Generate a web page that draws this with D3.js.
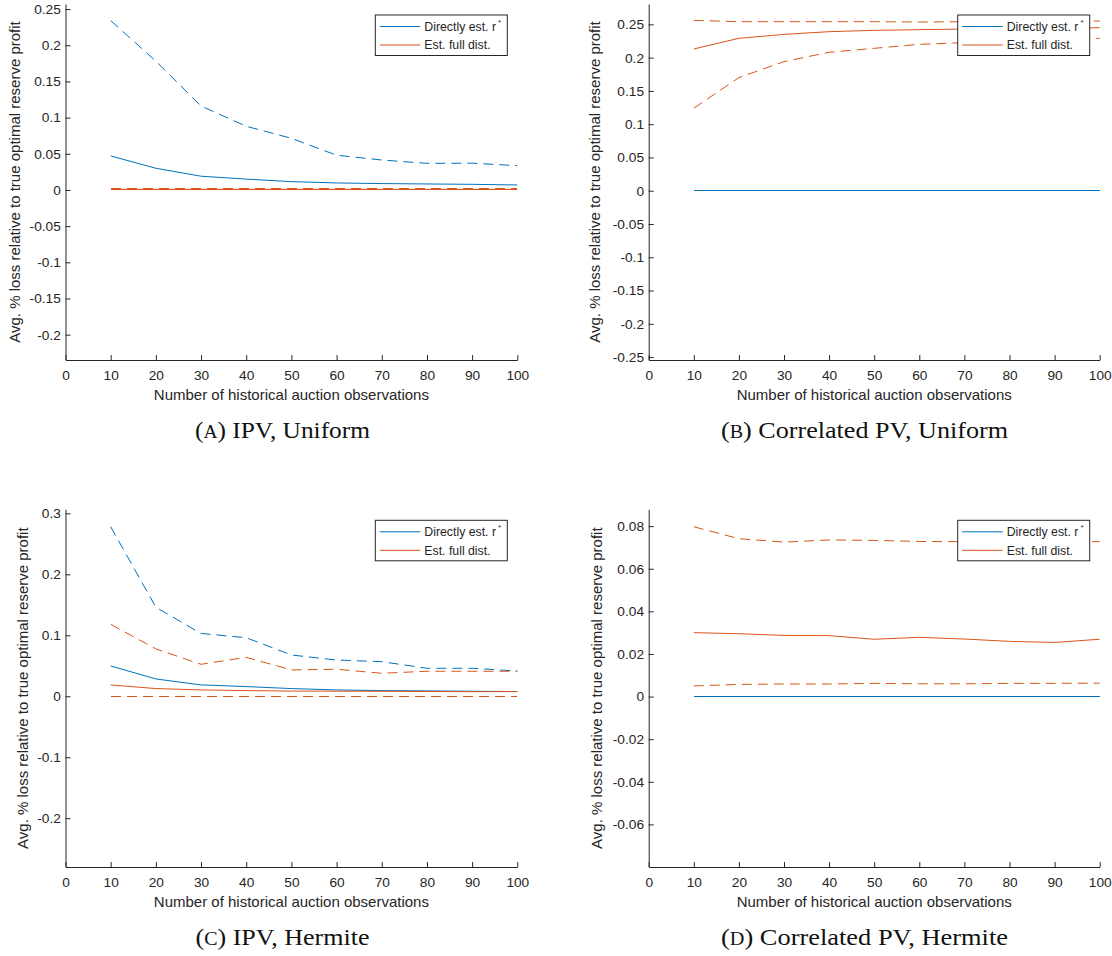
<!DOCTYPE html>
<html>
<head>
<meta charset="utf-8">
<script src="https://cdn.jsdelivr.net/npm/d3@7"></script>
<style>
  body { margin: 0; background: #fff; }
  svg text { font-family: "Liberation Sans", Arial, sans-serif; fill: #262626; }
  svg text.caption { font-family: "Liberation Serif", "Times New Roman", serif; fill: #111; }
</style>
</head>
<body>
<div id="chart"></div>
<script>
// 1- Data ------------------------------------------------------------------------------
const nObs   = [10, 20, 30, 40, 50, 60, 70, 80, 90, 100];
const xTicks = [0, 10, 20, 30, 40, 50, 60, 70, 80, 90, 100];

// (A) IPV, Uniform
const ipvUniDirect   = [0.047, 0.030, 0.019, 0.015, 0.0115, 0.0097, 0.0088, 0.0083, 0.0078, 0.0069];
const ipvUniDirectHi = [0.234, 0.178, 0.116, 0.088, 0.0714, 0.048, 0.0414, 0.0368, 0.037, 0.0336];
const ipvUniDirectLo = [0, 0, 0, 0, 0, 0, 0, 0, 0, 0];
const ipvUniFull     = [0.0008, 0.0008, 0.0008, 0.0008, 0.0008, 0.0008, 0.0008, 0.0008, 0.0008, 0.0008];
const ipvUniFullHi   = [0.0015, 0.0015, 0.0015, 0.0015, 0.0015, 0.0015, 0.0015, 0.0015, 0.0015, 0.0015];
const ipvUniFullLo   = [0, 0, 0, 0, 0, 0, 0, 0, 0, 0];

// (B) Correlated PV, Uniform
const corUniDirect   = [0, 0, 0, 0, 0, 0, 0, 0, 0, 0];
const corUniDirectHi = [0.0006, 0.0006, 0.0006, 0.0006, 0.0006, 0.0006, 0.0006, 0.0006, 0.0006, 0.0006];
const corUniDirectLo = [0, 0, 0, 0, 0, 0, 0, 0, 0, 0];
const corUniFull     = [0.213, 0.229, 0.235, 0.239, 0.241, 0.242, 0.243, 0.244, 0.244, 0.245];
const corUniFullHi   = [0.256, 0.254, 0.254, 0.254, 0.254, 0.2535, 0.254, 0.254, 0.254, 0.255];
const corUniFullLo   = [0.124, 0.170, 0.194, 0.208, 0.214, 0.220, 0.2225, 0.225, 0.227, 0.229];

// (C) IPV, Hermite
const ipvHerDirect   = [0.0497, 0.0284, 0.0186, 0.0159, 0.0126, 0.0104, 0.0093, 0.0088, 0.0082, 0.0077];
const ipvHerDirectHi = [0.278, 0.146, 0.103, 0.096, 0.0677, 0.0594, 0.0567, 0.0459, 0.0459, 0.0415];
const ipvHerDirectLo = [0, 0, 0, 0, 0, 0, 0, 0, 0, 0];
const ipvHerFull     = [0.0186, 0.0126, 0.0104, 0.0093, 0.0085, 0.0083, 0.0082, 0.0078, 0.0075, 0.0077];
const ipvHerFullHi   = [0.118, 0.0777, 0.0524, 0.0639, 0.0432, 0.0443, 0.0377, 0.041, 0.041, 0.041];
const ipvHerFullLo   = [0, 0, 0, 0, 0, 0, 0, 0, 0, 0];

// (D) Correlated PV, Hermite
const corHerDirect   = [0, 0, 0, 0, 0, 0, 0, 0, 0, 0];
const corHerDirectHi = [0, 0, 0, 0, 0, 0, 0, 0, 0, 0];
const corHerDirectLo = [0, 0, 0, 0, 0, 0, 0, 0, 0, 0];
const corHerFull     = [0.030, 0.0295, 0.0287, 0.0286, 0.0269, 0.0278, 0.027, 0.0259, 0.0254, 0.0269];
const corHerFullHi   = [0.0797, 0.0741, 0.0725, 0.0735, 0.0733, 0.0728, 0.0727, 0.0727, 0.0727, 0.0727];
const corHerFullLo   = [0.005, 0.0057, 0.0059, 0.0059, 0.0062, 0.006, 0.006, 0.0062, 0.0062, 0.0063];

// y tick values per panel
const yTicksA = [-0.2, -0.15, -0.1, -0.05, 0, 0.05, 0.1, 0.15, 0.2, 0.25];
const yTicksB = [-0.25, -0.2, -0.15, -0.1, -0.05, 0, 0.05, 0.1, 0.15, 0.2, 0.25];
const yTicksC = [-0.2, -0.1, 0, 0.1, 0.2, 0.3];
const yTicksD = [-0.06, -0.04, -0.02, 0, 0.02, 0.04, 0.06, 0.08];

const legendLabels = ["Directly est. r", "Est. full dist."];
const captionLetters = ["A", "B", "C", "D"];
const captionTexts = [") IPV, Uniform", ") Correlated PV, Uniform", ") IPV, Hermite", ") Correlated PV, Hermite"];
const xLabel = "Number of historical auction observations";
const yLabel = "Avg. % loss relative to true optimal reserve profit";

// 2- Layout / style ---------------------------------------------------------------------
const BLUE = "#0072BD";
const ORANGE = "#D95319";
const AXIS = "#262626";

const panels = [
  { left: 65.5, right: 517.3, top: 4, bottom: 360, yLim: [-0.235, 0.257], yTicks: yTicksA, ylabX: 19.5,
    capX: 282.5, capY: 438.3, capW: 175,
    direct: [ipvUniDirect, ipvUniDirectHi, ipvUniDirectLo], full: [ipvUniFull, ipvUniFullHi, ipvUniFullLo] },
  { left: 648.7, right: 1099.7, top: 4, bottom: 360, yLim: [-0.2544, 0.2806], yTicks: yTicksB, ylabX: 600,
    capX: 864.5, capY: 438.3, capW: 287,
    direct: [corUniDirect, corUniDirectHi, corUniDirectLo], full: [corUniFull, corUniFullHi, corUniFullLo] },
  { left: 65.5, right: 517.3, top: 509.3, bottom: 867, yLim: [-0.28, 0.3066], yTicks: yTicksC, ylabX: 28,
    capX: 282.5, capY: 945.3, capW: 174,
    direct: [ipvHerDirect, ipvHerDirectHi, ipvHerDirectLo], full: [ipvHerFull, ipvHerFullHi, ipvHerFullLo] },
  { left: 648.7, right: 1099.7, top: 509.3, bottom: 867, yLim: [-0.08, 0.0879], yTicks: yTicksD, ylabX: 601.5,
    capX: 864.5, capY: 945.3, capW: 287,
    direct: [corHerDirect, corHerDirectHi, corHerDirectLo], full: [corHerFull, corHerFullHi, corHerFullLo] }
];

// 3- SVG wrapper ------------------------------------------------------------------------
const svg = d3.select("#chart")
  .append("svg")
  .attr("width", 1112)
  .attr("height", 956);

const fmt = d => String(+d.toFixed(3));

// 4- Draw each panel --------------------------------------------------------------------
panels.forEach((p, idx) => {
  const g = svg.append("g");

  const x = d3.scaleLinear().domain([0, 100]).range([p.left, p.right]);
  const y = d3.scaleLinear().domain(p.yLim).range([p.bottom, p.top]);

  // x axis (ticks point inward, like MATLAB)
  const xAxis = g.append("g")
    .attr("transform", `translate(0,${p.bottom})`)
    .call(d3.axisBottom(x).tickValues(xTicks).tickSize(-5).tickSizeOuter(0)
      .tickPadding(10.3).tickFormat(d3.format("d")));

  // y axis
  const yAxis = g.append("g")
    .attr("transform", `translate(${p.left},0)`)
    .call(d3.axisLeft(y).tickValues(p.yTicks).tickSize(-5).tickSizeOuter(0)
      .tickPadding(4.7).tickFormat(fmt));

  [xAxis, yAxis].forEach(a => {
    a.attr("font-family", null).attr("font-size", null);
    a.select(".domain").attr("stroke", AXIS);
    a.selectAll(".tick line").attr("stroke", AXIS);
    a.selectAll(".tick text").attr("fill", AXIS).style("font-size", "13.7px");
  });

  // axis labels
  g.append("text")
    .attr("x", (p.left + p.right) / 2)
    .attr("y", p.bottom + 39.5)
    .attr("text-anchor", "middle")
    .style("font-size", "15px")
    .text(xLabel);

  g.append("text")
    .attr("transform", `translate(${p.ylabX},${(p.top + p.bottom) / 2}) rotate(-90)`)
    .attr("text-anchor", "middle")
    .style("font-size", "15px")
    .text(yLabel);

  // lines: solid = average, dashed = bands
  const line = d3.line()
    .x((d, i) => x(nObs[i]))
    .y(d => y(d));

  const drawSet = (set, color) => {
    set.forEach((vals, k) => {
      const flat = d3.min(vals) === d3.max(vals);
      g.append("path")
        .datum(vals)
        .attr("d", line)
        .attr("fill", "none")
        .attr("stroke", color)
        .attr("stroke-width", 1)
        .attr("shape-rendering", flat ? "crispEdges" : null)
        .attr("stroke-dasharray", k === 0 ? null : "10,6");
    });
  };
  drawSet(p.direct, BLUE);
  drawSet(p.full, ORANGE);

  // legend
  const lw = 132, lh = 40.5;
  const lg = g.append("g")
    .attr("transform", `translate(${p.right - 10 - lw},${p.top + 11})`);
  lg.append("rect")
    .attr("width", lw)
    .attr("height", lh)
    .attr("fill", "#fff")
    .attr("stroke", AXIS)
    .attr("stroke-width", 1);

  [BLUE, ORANGE].forEach((c, k) => {
    const yy = k === 0 ? 11.5 : 30;
    lg.append("line")
      .attr("x1", 4.5).attr("x2", 45)
      .attr("y1", yy).attr("y2", yy)
      .attr("stroke", c)
      .attr("stroke-width", 1);
    const t = lg.append("text")
      .attr("x", 49)
      .attr("y", yy + 4.3)
      .style("font-size", "12.3px")
      .text(legendLabels[k]);
    if (k === 0) {
      t.append("tspan")
        .attr("dx", 2)
        .attr("dy", -6)
        .style("font-size", "8px")
        .text("*");
    }
  });

  // caption
  const cap = g.append("text")
    .attr("class", "caption")
    .attr("x", p.capX)
    .attr("y", p.capY)
    .attr("text-anchor", "middle")
    .attr("textLength", p.capW)
    .attr("lengthAdjust", "spacingAndGlyphs")
    .style("font-size", "23.5px");
  cap.append("tspan").text("(");
  cap.append("tspan").style("font-size", "18px").text(captionLetters[idx]);
  cap.append("tspan").text(captionTexts[idx]);
});
</script>
</body>
</html>
